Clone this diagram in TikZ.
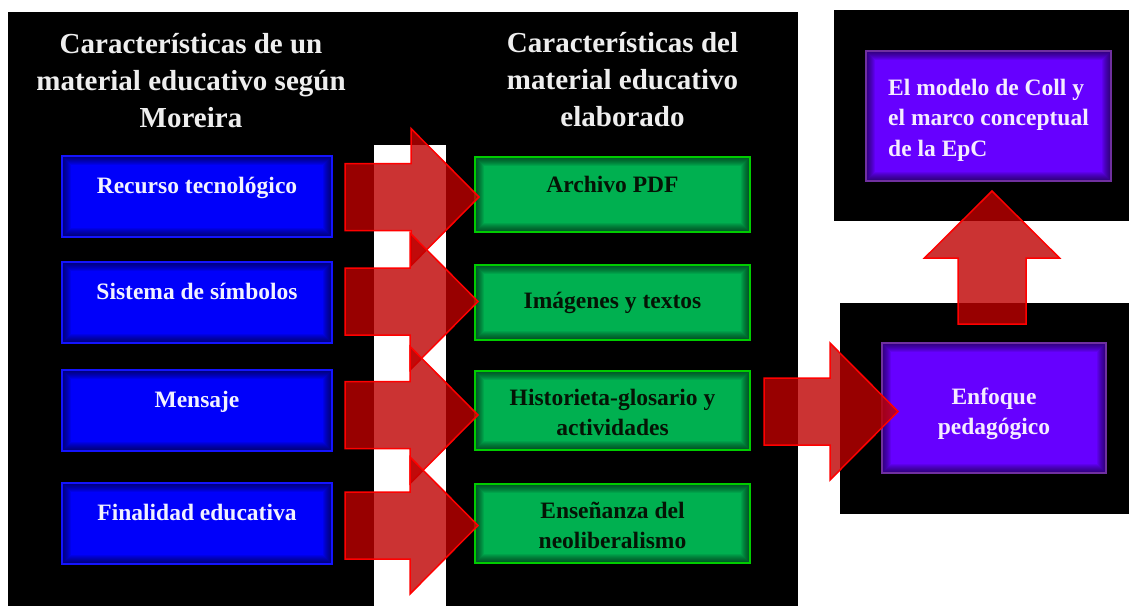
\documentclass[tikz,border=0pt]{standalone}
\usepackage{fontspec}
\setmainfont{Liberation Serif}
\usetikzlibrary{calc}

\definecolor{boxblue}{RGB}{0,0,250}
\definecolor{edgeblue}{RGB}{20,20,255}
\definecolor{boxgreen}{RGB}{0,176,80}
\definecolor{edgegreen}{RGB}{0,204,0}
\definecolor{boxpurple}{RGB}{102,0,255}
\definecolor{edgepurple}{RGB}{112,48,160}
\definecolor{arrowfill}{RGB}{191,0,0}
\definecolor{headtext}{RGB}{238,238,238}
\definecolor{bluetext}{RGB}{242,242,255}
\definecolor{greentext}{RGB}{5,20,5}
\definecolor{purpletext}{RGB}{245,236,255}

\newcommand\rightblock[2]{%
  \draw[bigarrow] let \p1=(#1), \p2=(#2) in
    (\x1,\y1+33.5pt) -- (\x2-68pt,\y1+33.5pt) -- (\x2-68pt,\y1+68.5pt) --
    (\x2,\y1) -- (\x2-68pt,\y1-68.5pt) -- (\x2-68pt,\y1-33.5pt) --
    (\x1,\y1-33.5pt) -- cycle;}
\newcommand\upblock[2]{%
  \draw[bigarrow] let \p1=(#1), \p2=(#2) in
    (\x1-34pt,\y1) -- (\x1-34pt,\y2-67pt) -- (\x1-67.5pt,\y2-67pt) --
    (\x1,\y2) -- (\x1+67.5pt,\y2-67pt) -- (\x1+34pt,\y2-67pt) --
    (\x1+34pt,\y1) -- cycle;}

\begin{document}
\begin{tikzpicture}[x=1pt,y=-1pt,
  glow/.style={path picture={\foreach \w in {2,4,...,18}{\draw[black,opacity=0.075,line width={\w pt}] (path picture bounding box.south west) rectangle (path picture bounding box.north east);}}},
  boxtext/.style={inner sep=0pt, align=center,
    font=\fontsize{23.5}{30.5}\selectfont\bfseries},
  box/.style={rectangle, inner sep=0pt, line width=2pt, glow,
    font=\fontsize{23.5}{30}\selectfont\bfseries, align=center},
  bluebox/.style={box, fill=boxblue, draw=edgeblue, text=bluetext,
    minimum width=270pt, minimum height=81pt},
  greenbox/.style={box, fill=boxgreen, draw=edgegreen, text=greentext,
    minimum width=275pt, minimum height=75pt},
  purplebox/.style={box, fill=boxpurple, draw=edgepurple, text=purpletext,
    minimum height=130pt},
  head/.style={inner sep=0pt, align=center, text=headtext,
    font=\fontsize{29}{36.8}\selectfont\bfseries},
  bigarrow/.style={fill=arrowfill, fill opacity=0.8, draw=red, line width=1.5pt, line join=miter}
]
\useasboundingbox (0,0) rectangle (1129,606);
\fill[white] (0,0) rectangle (1129,606);

% black panels
\fill[black] (8,12) rectangle (798,606);
\fill[white] (374,145) rectangle (446,606);
\fill[black] (834,10) rectangle (1129,221);
\fill[black] (840,303) rectangle (1129,514);

% headers
\node[head] (h1) at (191,80.5) {Características de un\\material educativo según\\Moreira};
\node[head] (h2) at (622.5,79.5) {Características del\\material educativo\\elaborado};

% blue boxes
\node[bluebox, text height=17pt, text depth=23pt] (b1) at (197,196) {Recurso tecnológico};
\node[bluebox, text height=17pt, text depth=23pt] (b2) at (197,302.5) {Sistema de símbolos};
\node[bluebox, text height=17pt, text depth=23pt] (b3) at (197,410) {Mensaje};
\node[bluebox, text height=17pt, text depth=23pt] (b4) at (197,523) {Finalidad educativa};

% green boxes
\node[greenbox, text height=17pt, text depth=21pt] (g1) at (612.5,194.5) {Archivo PDF};
\node[greenbox, text height=17pt, text depth=6pt] (g2) at (612.5,302.5) {Imágenes y textos};
\node[greenbox, minimum height=79pt] (g3) at (612.5,410.5) {};
\node[boxtext, text=greentext] (g3t) at ($(g3.center)+(0,2)$) {Historieta-glosario y\\actividades};
\node[greenbox, minimum height=79pt] (g4) at (612.5,523.5) {};
\node[boxtext, text=greentext] (g4t) at ($(g4.center)+(0,2)$) {Enseñanza del\\neoliberalismo};

% purple boxes
\node[purplebox, minimum width=245pt] (p1) at (988.5,116) {};
\node[boxtext, text=purpletext, align=left] (p1t) at ($(p1.center)+(0,4)$) {El modelo de Coll y\\el marco conceptual\\de la EpC};
\node[purplebox, minimum width=224pt] (p2) at (994,408) {};
\node[boxtext, text=purpletext] (p2t) at ($(p2.center)+(0,6)$) {Enfoque\\pedagógico};

% arrow end points
\coordinate (s1) at ($(b1.east)+(12,1)$);
\coordinate (t1) at ($(g1.west)+(5,0)$);
\coordinate (s2) at ($(b2.east)+(12,-1)$);
\coordinate (t2) at ($(g2.west)+(4,0)$);
\coordinate (s3) at ($(b3.east)+(12,5)$);
\coordinate (t3) at ($(g3.west)+(4,0)$);
\coordinate (s4) at ($(b4.east)+(12,2.5)$);
\coordinate (t4) at ($(g4.west)+(4,0)$);
\coordinate (s5) at ($(g3.east)+(13,1)$);
\coordinate (t5) at ($(p2.west)+(17,0)$);
\coordinate (s6) at ($(p2.north)+(-2,-18)$);
\coordinate (t6) at ($(p1.south)+(0,9)$);

\rightblock{s1}{t1}
\rightblock{s2}{t2}
\rightblock{s3}{t3}
\rightblock{s4}{t4}
\rightblock{s5}{t5}
\upblock{s6}{t6}
\end{tikzpicture}
\end{document}
